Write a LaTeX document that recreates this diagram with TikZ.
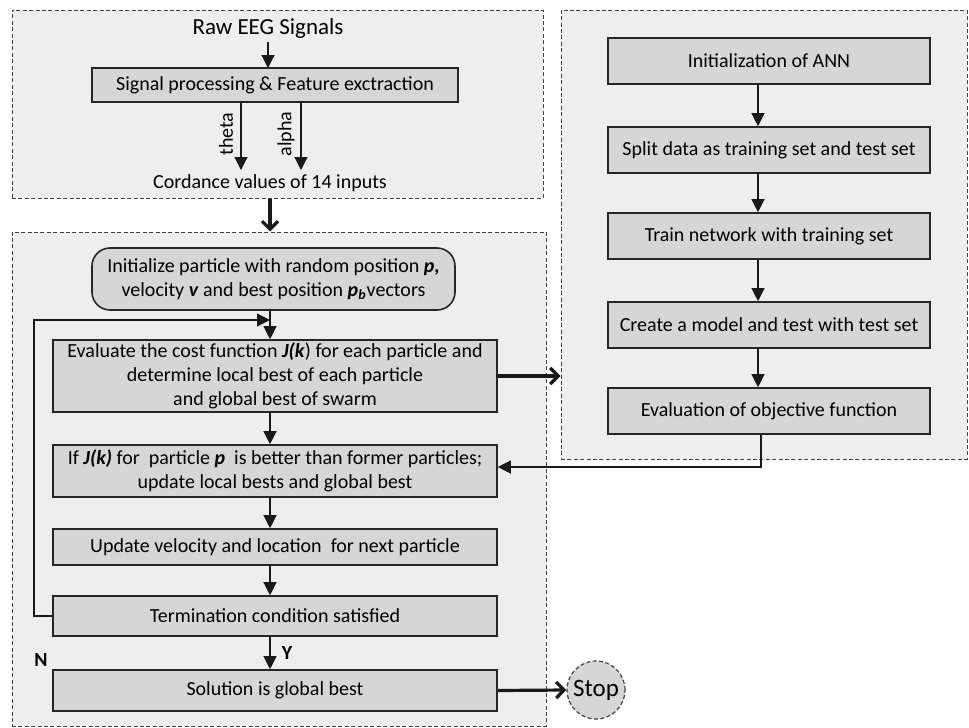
\documentclass[tikz,border=0pt]{standalone}
\usepackage{fontspec}
\setmainfont{Carlito}
\usetikzlibrary{arrows.meta,shapes.geometric}
\begin{document}
\begin{tikzpicture}[x=0.5pt,y=-0.5pt,
  frame/.style={draw=black!75, dash pattern=on 2pt off 1.2pt, fill=gray!13, line width=0.5pt, inner sep=0pt},
  box/.style={draw=black!85, fill=gray!32, line width=0.8pt, font=\fontsize{10}{12}\selectfont, align=center, inner sep=0pt},
  arr/.style={-{Triangle[length=6.5pt,width=6.5pt]}, line width=0.6pt, draw=black!90},
  tarr/.style={-{Straight Barb[length=4pt,width=8pt]}, line width=1.6pt, draw=black!90},
  lbl/.style={font=\fontsize{10}{12}\selectfont, inner sep=0pt}]
\useasboundingbox (0,0) rectangle (969,728);
% frames
\node[frame, minimum width=265.5pt, minimum height=94pt] (F1) at (277.5,104) {};
\node[frame, minimum width=267pt, minimum height=247pt] (F2) at (279,479) {};
\node[frame, minimum width=203pt, minimum height=224.5pt] (F3) at (764,234.5) {};
% top section
\node[font=\fontsize{11.5}{13}\selectfont, inner sep=0pt] (raw) at (268,28) {Raw EEG Signals};
\node[box, minimum width=183pt, minimum height=17pt] (sig) at (275,85) {Signal processing \& Feature exctraction};
\coordinate (th) at (241,170);
\coordinate (al) at (301,170);
\draw[arr] (raw.south -| 268,0) ++(0,4) -- (268,68);
\draw[arr] (sig.south -| th) -- (th);
\draw[arr] (sig.south -| al) -- (al);
\node[lbl, rotate=90] (tht) at (226,134) {theta};
\node[lbl, rotate=90] (alt) at (286,134) {alpha};
\node[lbl] (cord) at (270,183) {Cordance values of 14 inputs};
\draw[tarr] (F1.south -| cord) -- (F2.north -| cord);
% PSO section
\node[box, rounded corners=9pt, minimum width=181.5pt, minimum height=31pt] (init) at (273.5,279)
  {Initialize particle with random position \textbf{\textit{p,}}\\ velocity \textbf{\textit{v}} and best position \textbf{\textit{p}}\textsubscript{\textbf{\textit{b}}}vectors};
\node[box, minimum width=222pt, minimum height=36pt] (eval) at (275,376)
  {Evaluate the cost function \textbf{\textit{J(k}}) for each particle and\\ determine local best of each particle\\ and global best of swarm};
\node[box, minimum width=222pt, minimum height=26pt] (ifb) at (275,471)
  {If \textbf{\textit{J(k)}} for\ \ particle \textbf{\textit{p}}\ \ is better than former particles;\\ update local bests and global best};
\node[box, minimum width=222pt, minimum height=18pt] (upd) at (275,547)
  {Update velocity and location\ \ for next particle};
\node[box, minimum width=222pt, minimum height=20pt] (term) at (275,616)
  {Termination condition satisfied};
\node[box, minimum width=222pt, minimum height=20.5pt] (sol) at (275,690.5)
  {Solution is global best};
\node[circle, draw=black!75, dash pattern=on 2pt off 1.2pt, fill=gray!32, line width=0.6pt, minimum size=29pt, inner sep=0pt, font=\fontsize{12.5}{14}\selectfont] (stop) at (596,690) {Stop};
\draw[arr] (init.south -| 270,0) -- (eval.north -| 270,0);
\draw[arr] (eval.south -| 270,0) -- (ifb.north -| 270,0);
\draw[arr] (ifb.south -| 270,0) -- (upd.north -| 270,0);
\draw[arr] (upd.south -| 270,0) -- (term.north -| 270,0);
\draw[arr] (term.south -| 270,0) -- (sol.north -| 270,0);
\node[font=\bfseries\fontsize{10}{12}\selectfont, inner sep=0pt] (Y) at (287,653) {Y};
\node[font=\bfseries\fontsize{10}{12}\selectfont, inner sep=0pt] (N) at (41,660) {N};
\coordinate (lp) at (34,320);
\draw[arr] (term.west) -- (term.west -| lp) -- (lp) -- (lp -| 270,0);
\draw[tarr] (sol.east) -- (stop.west);
\draw[tarr] (eval.east) -- (F3.west |- eval.east);
% ANN section
\node[box, minimum width=161pt, minimum height=23pt] (r1) at (769,61) {Initialization of ANN};
\node[box, minimum width=161pt, minimum height=23pt] (r2) at (769,150) {Split data as training set and test set};
\node[box, minimum width=161pt, minimum height=23pt] (r3) at (769,236) {Train network with training set};
\node[box, minimum width=161pt, minimum height=23pt] (r4) at (769,325) {Create a model and test with test set};
\node[box, minimum width=161pt, minimum height=23pt] (r5) at (769,411) {Evaluation of objective function};
\draw[arr] (r1.south -| 758,0) -- (r2.north -| 758,0);
\draw[arr] (r2.south -| 758,0) -- (r3.north -| 758,0);
\draw[arr] (r3.south -| 758,0) -- (r4.north -| 758,0);
\draw[arr] (r4.south -| 758,0) -- (r5.north -| 758,0);
\coordinate (fb) at (761,467);
\draw[arr] (r5.south -| fb) -- (fb) -- (fb -| ifb.east);
\end{tikzpicture}
\end{document}
